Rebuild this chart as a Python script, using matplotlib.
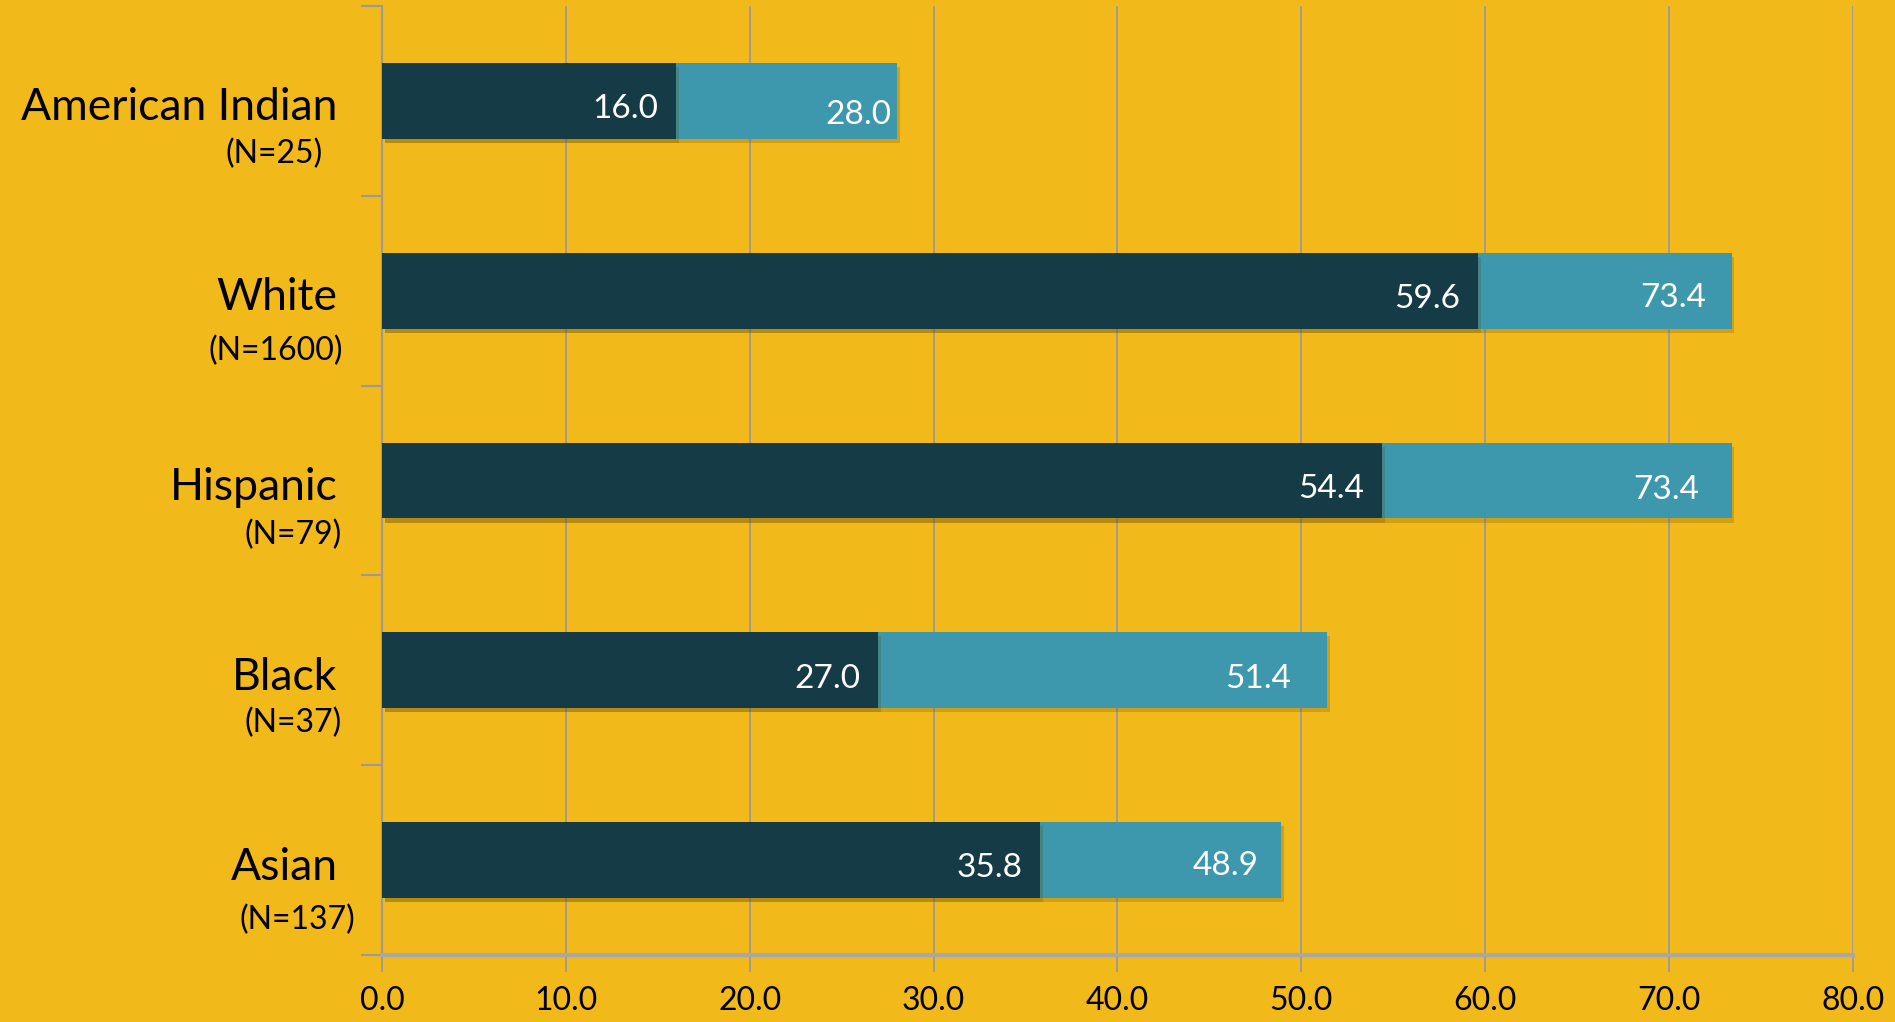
import matplotlib
matplotlib.use("Agg")
import matplotlib.pyplot as plt
import matplotlib.patheffects as pe
import numpy as np

categories = ["American Indian", "White", "Hispanic", "Black", "Asian"]
n_labels = ["(N=25)", "(N=1600)", "(N=79)", "(N=37)", "(N=137)"]
dark_values = [16.0, 59.6, 54.4, 27.0, 35.8]
light_values = [28.0, 73.4, 73.4, 51.4, 48.9]
xticks = [0, 10, 20, 30, 40, 50, 60, 70, 80]

BG = "#F2B91A"
DARK = "#153B47"
LIGHT = "#3D97AD"
GRID = "#9A9A9A"

plt.rcParams['font.family'] = ['Lato', 'DejaVu Sans']

fig = plt.figure(figsize=(18.95, 10.22), dpi=100, facecolor=BG)
ax = fig.add_axes([0.2016, 0.0656, 0.9778 - 0.2016, 0.9941 - 0.0656])
ax.set_facecolor(BG)

y = np.arange(len(categories))
shadow = [pe.SimplePatchShadow(offset=(2, -3), alpha=0.22, shadow_rgbFace="#5a4400"), pe.Normal()]
lb = ax.barh(y, light_values, height=0.4, color=LIGHT, zorder=3, path_effects=shadow)
db = ax.barh(y, dark_values, height=0.4, color=DARK, zorder=4, path_effects=shadow)

ax.set_xlim(0, 80)
ax.set_ylim(len(categories) - 0.5, -0.5)
ax.set_xticks(xticks)
ax.set_xticklabels([f"{v:.1f}" for v in xticks], fontsize=23)
ax.grid(axis='x', color=GRID, linewidth=1.3, zorder=0)
ax.set_yticks(np.arange(len(categories) + 1) - 0.5)
ax.set_yticklabels([])
ax.tick_params(axis='y', length=15, width=1.5, color=GRID, direction='out')
ax.tick_params(axis='x', length=12, width=1.3, color=GRID, direction='out', pad=10)
for s in ['top', 'right']:
    ax.spines[s].set_visible(False)
ax.spines['left'].set_color(GRID)
ax.spines['left'].set_linewidth(1.5)
ax.spines['bottom'].set_color("#A8A8A8")
ax.spines['bottom'].set_linewidth(3)

# value labels (label offsets in points from bar ends)
light_dx = [-4, -18, -23, -26, -16]
light_dy = [-10, -5, -6.5, -6, -4]
for i in range(len(categories)):
    ax.annotate(f"{dark_values[i]:.1f}", (dark_values[i], y[i]), xytext=(-13, -6),
                textcoords='offset points', ha='right', va='center', color='white',
                fontsize=24, zorder=6)
    ax.annotate(f"{light_values[i]:.1f}", (light_values[i], y[i]), xytext=(light_dx[i], light_dy[i]),
                textcoords='offset points', ha='right', va='center', color='white',
                fontsize=24, zorder=6)

# category labels
n_dx = [-11, 4, 3, 3, 13]
n_dy = [-38, -43, -39, -38, -43]
for i in range(len(categories)):
    ax.annotate(categories[i], (0, y[i]), xytext=(-32, -5), textcoords='offset points',
                ha='right', va='center', fontsize=32, color='black', annotation_clip=False)
    ax.annotate(n_labels[i], (0, y[i]), xytext=(-32 + n_dx[i], n_dy[i]), textcoords='offset points',
                ha='right', va='center', fontsize=23, color='black', annotation_clip=False)

fig.savefig("out.png", dpi=100, facecolor=BG)
